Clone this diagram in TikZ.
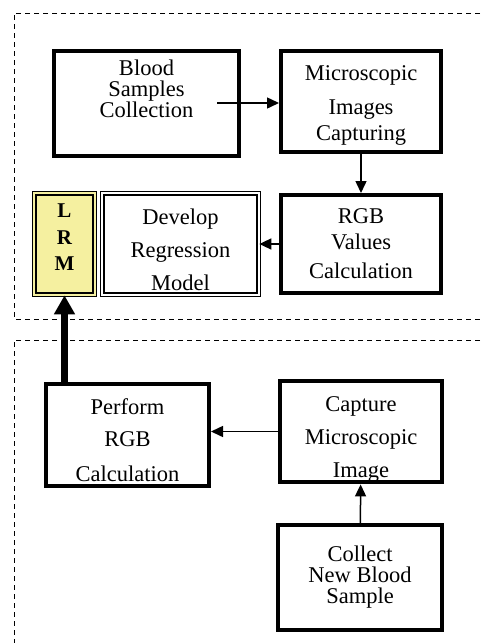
\documentclass[tikz,border=0pt]{standalone}
\usepackage{fontspec}
\setmainfont{Liberation Serif}
\usetikzlibrary{arrows.meta}
\definecolor{lrmyellow}{RGB}{245,240,160}

\begin{document}
\begin{tikzpicture}[x=1pt,y=-1pt,
    blk/.style={draw,line width=4pt,inner sep=0pt,align=center,
      font=\fontsize{22.5}{26}\selectfont},
    dblk/.style={draw,line width=1.3pt,double,double distance=2pt,inner sep=0pt,align=center,
      font=\fontsize{22.5}{26}\selectfont},
    flow/.style={line width=1.5pt,-{Triangle[length=12pt,width=11pt]}},
    bigflow/.style={line width=6.5pt,-{Triangle[length=19pt,width=20pt]}},
    frame/.style={dashed,line width=1pt,dash pattern=on 5pt off 4pt}]
      \useasboundingbox (0,0) rectangle (480,643);
      % training part
      \draw[frame] (480,13) -- (14,13) -- (14,319) -- (480,319);
      \node[blk,minimum width=185pt,minimum height=105pt] (blood) at (146.5,103.5)
        {Blood\\[-5pt]Samples\\[-5pt]Collection\\[3pt]\mbox{}};
      \node[blk,minimum width=160pt,minimum height=101pt] (micro) at (361,101.5)
        {\rule{0pt}{23pt}Microscopic\\[8pt]Images\\Capturing};
      \node[blk,minimum width=160pt,minimum height=98pt] (rgb) at (361,244)
        {RGB\\Values\\[3pt]Calculation};
      \node[dblk,minimum width=156.4pt,minimum height=101.4pt] (develop) at (180.5,244)
        {\rule{0pt}{27pt}Develop\\[7pt]Regression\\[7pt]Model};
      \node[dblk,double=lrmyellow,fill=lrmyellow,minimum width=60.4pt,minimum height=101.4pt,
        font=\fontsize{21}{26.5}\selectfont\bfseries] (lrm) at (64.5,244) {L\\R\\M\rule[-13pt]{0pt}{0pt}};
      \coordinate (bloodout) at (217,103);
      \draw[flow] (bloodout) -- (bloodout -| micro.west);
      \draw[flow] (micro) -- (rgb);
      \draw[flow] (rgb) -- (develop);
      % testing part
      \draw[frame] (480,340) -- (14,340) -- (14,643);
      \node[blk,minimum width=163pt,minimum height=102pt] (perform) at (127.5,435)
        {\rule{0pt}{27pt}Perform\\[6pt]RGB\\[9pt]Calculation};
      \node[blk,minimum width=162pt,minimum height=101pt] (capture) at (361,431.5)
        {\rule{0pt}{31pt}Capture\\[7pt]Microscopic\\[7pt]Image};
      \node[blk,minimum width=164pt,minimum height=105pt] (collect) at (360,577.5)
        {Collect\\[-5pt]New Blood\\[-5pt]Sample};
      \draw[flow] (collect) -- (capture);
      \draw[flow] (capture) -- (capture.west -| perform.east);
      \draw[bigflow] (lrm.south |- perform.north) -- (lrm.south);
    \end{tikzpicture}
\end{document}
